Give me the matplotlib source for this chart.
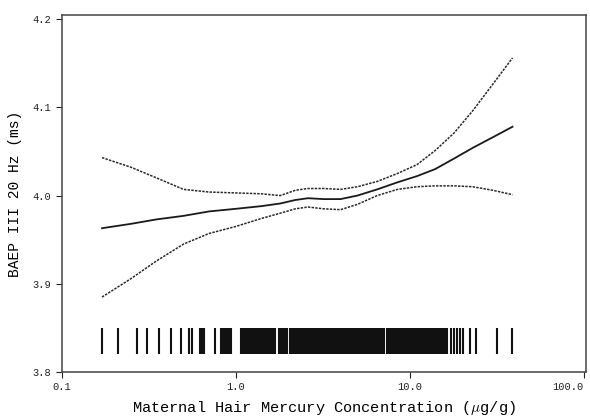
import numpy as np
from matplotlib import pyplot as plt
from matplotlib.ticker import FixedLocator, FixedFormatter, NullLocator

plt.rcParams['font.family'] = ['Liberation Mono', 'DejaVu Sans Mono']
plt.rcParams['mathtext.fontset'] = 'cm'

# ******************
# smoothed fit and confidence band
x_fit = [0.17, 0.25, 0.35, 0.5, 0.7, 1.0, 1.4, 1.8, 2.2, 2.6, 3.2,
         4.0, 5.0, 6.5, 8.5, 11, 14, 18, 23, 30, 39]
y_fit = [3.963, 3.968, 3.973, 3.977, 3.982, 3.985, 3.988, 3.991, 3.995, 3.997, 3.996,
         3.996, 4.000, 4.007, 4.015, 4.022, 4.030, 4.042, 4.054, 4.066, 4.078]
y_upper = [4.043, 4.032, 4.020, 4.007, 4.004, 4.003, 4.002, 4.000, 4.006, 4.008, 4.008,
           4.007, 4.010, 4.016, 4.025, 4.035, 4.051, 4.071, 4.096, 4.126, 4.156]
y_lower = [3.885, 3.906, 3.926, 3.945, 3.957, 3.965, 3.974, 3.980, 3.985, 3.987, 3.985,
           3.984, 3.990, 4.000, 4.007, 4.010, 4.011, 4.011, 4.010, 4.006, 4.001]

# observed hair mercury values (rug)
rug_x = [0.169, 0.209, 0.269, 0.307, 0.362, 0.423, 0.481, 0.535, 0.559, 0.625,
         0.636, 0.653, 0.756, 0.819, 0.841, 0.864, 0.887, 0.911, 0.942,
         1.07, 1.10, 1.12, 1.15, 1.18, 1.21, 1.24, 1.27, 1.30, 1.33,
         1.36, 1.40, 1.43, 1.47, 1.50, 1.54, 1.58, 1.62, 1.66, 1.69,
         1.76, 1.79, 1.83, 1.87, 1.92, 1.96, 2.04, 2.08, 2.12, 2.17,
         2.23, 2.28, 2.34, 2.40, 2.46, 2.52, 2.58, 2.64, 2.71, 2.78,
         2.85, 2.92, 2.99, 3.07, 3.14, 3.22, 3.30, 3.38, 3.47, 3.55,
         3.64, 3.73, 3.83, 3.92, 4.02, 4.12, 4.22, 4.33, 4.43, 4.54,
         4.66, 4.77, 4.89, 5.02, 5.14, 5.27, 5.40, 5.54, 5.67, 5.82,
         5.96, 6.11, 6.26, 6.42, 6.58, 6.74, 6.91, 7.08, 7.40, 7.58,
         7.77, 7.97, 8.17, 8.37, 8.58, 8.79, 9.01, 9.24, 9.47, 9.71,
         9.95, 10.2, 10.5, 10.7, 11.0, 11.3, 11.5, 11.8, 12.1, 12.4,
         12.7, 13.0, 13.4, 13.7, 14.0, 14.4, 14.8, 15.1, 15.5, 15.9,
         16.4, 17.2, 17.9, 18.6, 19.4, 20.2, 22.2, 24.1, 31.7, 38.7]

x_ticks = [0.1, 1.0, 10.0, 100.0]
x_tick_labels = ['0.1', '1.0', '10.0', '100.0']
y_ticks = [3.8, 3.9, 4.0, 4.1, 4.2]
y_tick_labels = ['3.8', '3.9', '4.0', '4.1', '4.2']

# *****************************
fig = plt.figure(figsize=(5.9, 4.19), dpi=100)
ax = fig.add_axes([0.105, 0.112, 0.888, 0.852])

ax.plot(x_fit, y_fit, color='#1a1a1a', linewidth=1.3)
ax.plot(x_fit, y_upper, color='#2a2a2a', linewidth=1.1, linestyle=(0, (1.6, 0.8)))
ax.plot(x_fit, y_lower, color='#2a2a2a', linewidth=1.1, linestyle=(0, (1.6, 0.8)))

ax.vlines(rug_x, 3.820, 3.850, color='#111111', linewidth=1.5)

ax.set_xscale('log')
ax.set_xlim(0.1, 103)
ax.set_ylim(3.8, 4.2045)

ax.xaxis.set_major_locator(FixedLocator(x_ticks))
ax.xaxis.set_major_formatter(FixedFormatter(x_tick_labels))
ax.xaxis.set_minor_locator(NullLocator())
ax.set_yticks(y_ticks)
ax.set_yticklabels(y_tick_labels)

ax.tick_params(direction='out', length=4, width=0.8, labelsize=7.5, colors='#222222')
ax.get_xticklabels()[-1].set_horizontalalignment('right')
for s in ax.spines.values():
    s.set_color('#444444')
    s.set_linewidth(1.1)

ax.set_xlabel(r'Maternal Hair Mercury Concentration ($\mu$g/g)', fontsize=11, labelpad=5)
ax.set_ylabel('BAEP III 20 Hz (ms)', fontsize=10.5, labelpad=8)

fig.savefig('out.png', dpi=100)
